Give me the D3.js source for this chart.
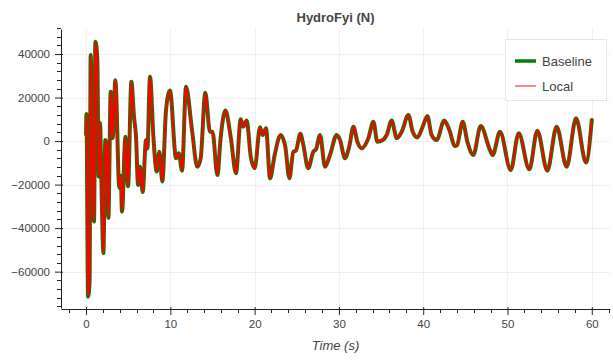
<!DOCTYPE html>
<html>
<head>
<meta charset="utf-8">
<script src="https://cdn.jsdelivr.net/npm/d3@7"></script>
<style>
  html, body { margin: 0; padding: 0; background: #fff; }
  svg { display: block; font-family: "Liberation Sans", Helvetica, Arial, sans-serif; }
</style>
</head>
<body>
<svg id="chart" width="613" height="360"></svg>
<script>
// ---- data ----
const chartTitle = "HydroFyi (N)";
const xLabel = "Time (s)";
const seriesNames = ["Baseline", "Local"];
const timeS = [0.00,0.05,0.24,0.42,0.55,0.79,0.95,1.11,1.34,1.50,1.66,1.82,2.06,2.29,2.45,2.65,2.93,3.16,3.48,3.95,4.11,4.27,4.67,4.98,5.38,5.69,5.93,6.17,6.41,6.72,7.12,7.28,7.59,7.99,8.38,8.70,9.05,9.49,9.96,10.68,11.00,11.39,11.86,12.57,13.20,13.60,14.15,14.70,15.00,15.58,15.98,16.53,17.16,17.79,18.35,18.66,19.06,19.54,20.01,20.64,20.96,21.35,21.83,22.38,23.09,23.64,24.12,24.60,24.90,25.43,25.78,26.35,26.96,27.28,27.76,28.35,28.94,29.74,30.13,30.72,31.24,31.72,32.19,32.70,33.49,34.09,34.56,35.20,35.67,36.26,36.86,37.45,38.24,38.76,39.31,39.94,40.49,41.00,41.60,42.50,43.10,43.77,44.00,44.69,45.24,45.94,46.82,47.92,48.24,49.11,50.38,51.33,52.59,53.54,54.72,55.83,57.02,58.13,59.31,60.00];
const baselineN = [3000,12500,-71500,-65000,39500,-17900,-37000,45600,38000,-16300,8300,-17900,-51500,500,-2000,-35300,22700,1400,28000,-21600,-15900,-32400,2000,-20700,27300,11200,2000,-20200,-11800,-23400,500,-3400,29600,2000,-14000,-4900,-18600,14300,23200,-7900,-5600,-13600,25000,5100,-11800,-7900,22200,4300,4300,-15600,2000,14000,2000,-14800,10000,6600,9400,-7200,-12500,6300,2800,5900,-17100,-6400,2800,-2600,-17100,-4900,-4400,3400,-1800,-12500,-4900,-3800,2800,-11800,-6400,2800,500,-7900,-2300,6600,-300,-3300,1300,8900,-300,500,2800,9400,1300,4300,12000,4300,1700,6600,11500,2800,500,9500,5100,-2300,-2000,8900,-300,-6400,6900,-4100,-6400,4300,-13300,3600,-13000,4800,-13600,6600,-11800,10500,-9900,9700];
const localN = [3000,12500,-71500,-65000,39500,-17900,-37000,45600,38000,-16300,8300,-17900,-51500,500,-2000,-35300,22700,1400,28000,-21600,-15900,-32400,2000,-20700,27300,11200,2000,-20200,-11800,-23400,500,-3400,29600,2000,-14000,-4900,-18600,14300,23200,-7900,-5600,-13600,25000,5100,-11800,-7900,22200,4300,4300,-15600,2000,14000,2000,-14800,10000,6600,9400,-7200,-12500,6300,2800,5900,-17100,-6400,2800,-2600,-17100,-4900,-4400,3400,-1800,-12500,-4900,-3800,2800,-11800,-6400,2800,500,-7900,-2300,6600,-300,-3300,1300,8900,-300,500,2800,9400,1300,4300,12000,4300,1700,6600,11500,2800,500,9500,5100,-2300,-2000,8900,-300,-6400,6900,-4100,-6400,4300,-13300,3600,-13000,4800,-13600,6600,-11800,10500,-9900,9700];
const xTicks = [0,10,20,30,40,50,60];
const yTicks = [-60000,-40000,-20000,0,20000,40000];

// ---- layout ----
const svg = d3.select("#chart");
const plot = {left: 61, right: 610, top: 29, bottom: 308};
const x = d3.scaleLinear().domain([-2.97, 62.16]).range([plot.left, plot.right]);
const y = d3.scaleLinear().domain([-76700, 51500]).range([plot.bottom, plot.top]);

const xMinor = d3.range(-2, 63, 2).filter(v => !xTicks.includes(v));
const yMinor = d3.range(-76000, 52001, 4000).filter(v => !yTicks.includes(v));

// grid
const grid = svg.append("g").attr("stroke", "#e5e5e5").attr("stroke-opacity", 0.6).attr("stroke-width", 1);
grid.selectAll(".gx").data(xTicks).join("line")
  .attr("x1", d => Math.round(x(d)) + 0.5).attr("x2", d => Math.round(x(d)) + 0.5)
  .attr("y1", plot.top).attr("y2", plot.bottom);
grid.selectAll(".gy").data(yTicks).join("line")
  .attr("y1", d => Math.round(y(d)) + 0.5).attr("y2", d => Math.round(y(d)) + 0.5)
  .attr("x1", plot.left).attr("x2", plot.right);

// lines
const clip = svg.append("clipPath").attr("id", "clip").append("rect")
  .attr("x", plot.left).attr("y", plot.top).attr("width", plot.right - plot.left).attr("height", plot.bottom - plot.top);
const line = d3.line().x(d => x(d[0])).y(d => y(d[1])).curve(d3.curveMonotoneX);
const lines = svg.append("g").attr("clip-path", "url(#clip)");
lines.append("path").datum(timeS.map((t, i) => [t, baselineN[i]]))
  .attr("d", line).attr("fill", "none").attr("stroke", "green").attr("stroke-width", 4)
  .attr("stroke-linejoin", "round").attr("stroke-linecap", "round");
lines.append("path").datum(timeS.map((t, i) => [t, localN[i]]))
  .attr("d", line).attr("fill", "none").attr("stroke", "red").attr("stroke-width", 2.2)
  .attr("stroke-linejoin", "round").attr("stroke-linecap", "round");

// axes
const axisColor = "#222";
const labelColor = "#444";
const xAxis = d3.axisBottom(x).tickValues(xTicks).tickSizeInner(6).tickSizeOuter(0).tickPadding(5).tickFormat(d3.format("d"));
const gx = svg.append("g").attr("transform", `translate(0,${plot.bottom + 1})`).call(xAxis);
gx.select(".domain").attr("stroke", axisColor);
gx.selectAll(".tick line").attr("stroke", axisColor).attr("y1", -2);
gx.selectAll(".tick text").attr("fill", labelColor).attr("font-size", "11.5px").attr("font-family", "Liberation Sans, Helvetica, Arial, sans-serif");
gx.selectAll(".minor").data(xMinor).join("line")
  .attr("x1", d => Math.round(x(d)) + 0.5).attr("x2", d => Math.round(x(d)) + 0.5)
  .attr("y1", 0).attr("y2", 4).attr("stroke", axisColor);

const yAxis = d3.axisLeft(y).tickValues(yTicks).tickSizeInner(6).tickSizeOuter(0).tickPadding(5).tickFormat(d3.format("d"));
const gy = svg.append("g").attr("transform", `translate(${plot.left},0)`).call(yAxis);
gy.select(".domain").attr("stroke", axisColor);
gy.selectAll(".tick line").attr("stroke", axisColor).attr("x1", 2);
gy.selectAll(".tick text").attr("fill", labelColor).attr("font-size", "11.5px").attr("font-family", "Liberation Sans, Helvetica, Arial, sans-serif");
gy.selectAll(".minor").data(yMinor).join("line")
  .attr("y1", d => Math.round(y(d)) + 0.5).attr("y2", d => Math.round(y(d)) + 0.5)
  .attr("x1", 0).attr("x2", -4).attr("stroke", axisColor);

// title
svg.append("text").attr("x", (plot.left + plot.right) / 2).attr("y", 22)
  .attr("text-anchor", "middle").attr("font-weight", "bold").attr("font-size", "13px")
  .attr("fill", labelColor).text(chartTitle);

// x label
svg.append("text").attr("x", (plot.left + plot.right) / 2).attr("y", 350)
  .attr("text-anchor", "middle").attr("font-style", "italic").attr("font-size", "13px")
  .attr("fill", labelColor).text(xLabel);

// legend
const legend = svg.append("g");
legend.append("rect").attr("x", 505.5).attr("y", 39.5).attr("width", 101).attr("height", 61)
  .attr("fill", "#fff").attr("stroke", "#e5e5e5").attr("stroke-width", 1);
const legendStyles = [{color: "green", width: 3.5}, {color: "#f03a3a", width: 1.2}];
seriesNames.forEach((name, i) => {
  const cy = 61 + i * 25;
  legend.append("line").attr("x1", 515).attr("x2", 536).attr("y1", cy).attr("y2", cy)
    .attr("stroke", legendStyles[i].color).attr("stroke-width", legendStyles[i].width);
  legend.append("text").attr("x", 542).attr("y", cy).attr("dy", "0.35em")
    .attr("font-size", "13px").attr("fill", labelColor).text(name);
});
</script>
</body>
</html>
